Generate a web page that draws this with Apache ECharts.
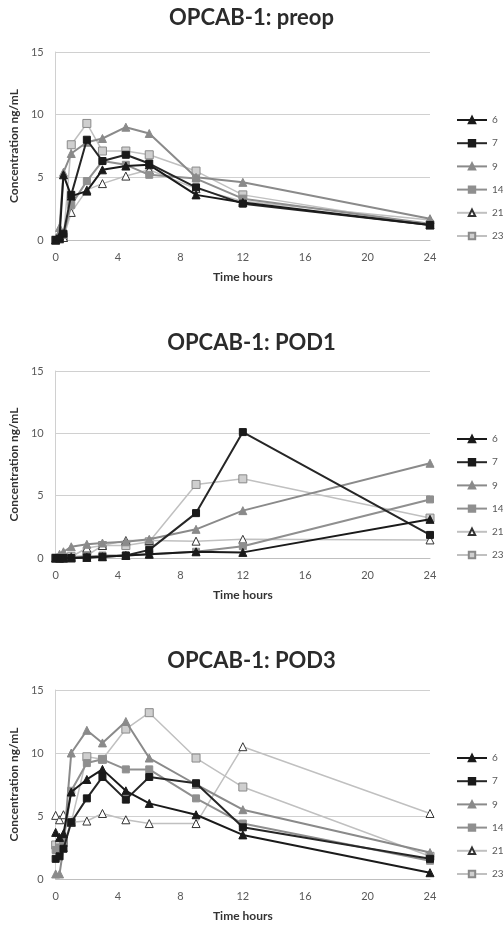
<!DOCTYPE html>
<html>
<head>
<meta charset="utf-8">
<script src="https://cdn.jsdelivr.net/npm/echarts@6/dist/echarts.min.js"></script>
<style>
html,body{margin:0;padding:0;background:#fff;}
#chart{width:503px;height:930px;}
</style>
</head>
<body>
<div id="chart"></div>
<script>
// ---- data ----
const times = [0, 0.25, 0.5, 1, 2, 3, 4.5, 6, 9, 12, 24];
const seriesNames = ['6', '7', '9', '14', '21', '23'];
const panelTitles = ['OPCAB-1: preop', 'OPCAB-1: POD1', 'OPCAB-1: POD3'];
const yTicks = [0, 5, 10, 15];
const xTicks = [0, 4, 8, 12, 16, 20, 24];

const preop6  = [0, 0.3, 5.2, 3.5, 3.9, 5.6, 5.9, 6.0, 3.6, 3.0, 1.2];
const preop7  = [0, 0.1, 0.5, 3.6, 8.0, 6.3, 6.8, 6.1, 4.2, 2.9, 1.2];
const preop9  = [0, 1.0, 5.4, 6.9, 7.8, 8.1, 9.0, 8.5, 5.0, 4.6, 1.7];
const preop14 = [0, 0.2, 0.4, 2.8, 4.7, 6.3, 6.0, 5.2, 4.9, 3.3, 1.3];
const preop21 = [0, 0.1, 0.2, 2.2, 4.0, 4.5, 5.1, 5.6, 4.1, 3.1, 1.6];
const preop23 = [0, 0.1, 0.2, 7.6, 9.3, 7.1, 7.1, 6.8, 5.5, 3.6, 1.2];

const pod1_6  = [0, 0, 0, 0, 0.05, 0.1, 0.2, 0.3, 0.5, 0.45, 3.1];
const pod1_7  = [0, 0, 0, 0, 0.05, 0.1, 0.2, 0.65, 3.6, 10.1, 1.85];
const pod1_9  = [0, 0.3, 0.5, 0.9, 1.1, 1.2, 1.3, 1.5, 2.3, 3.8, 7.6];
const pod1_14 = [0, 0, 0, 0, 0.1, 0.2, 0.2, 0.3, 0.5, 0.95, 4.7];
const pod1_21 = [0, 0, 0, 0.1, 0.8, 1.0, 1.4, 1.4, 1.35, 1.5, 1.45];
const pod1_23 = [0, 0, 0, 0.1, 0.2, 1.0, 1.0, 1.3, 5.9, 6.35, 3.2];

const pod3_6  = [3.7, 3.3, 3.6, 6.9, 7.9, 8.7, 7.0, 6.0, 5.1, 3.5, 0.5];
const pod3_7  = [1.6, 1.8, 2.4, 4.5, 6.4, 8.1, 6.3, 8.1, 7.6, 4.1, 1.6];
const pod3_9  = [0.4, 0.4, 2.5, 10.0, 11.8, 10.8, 12.5, 9.6, 7.5, 5.5, 2.1];
const pod3_14 = [2.3, 2.5, 3.0, 7.0, 9.2, 9.5, 8.7, 8.7, 6.4, 4.4, 1.45];
const pod3_21 = [5.05, 4.7, 5.1, 4.5, 4.6, 5.2, 4.7, 4.4, 4.4, 10.5, 5.2];
const pod3_23 = [2.7, 2.7, 2.9, 4.5, 9.7, 9.5, 11.9, 13.2, 9.6, 7.3, 1.8];

const panels = [
  [preop6, preop7, preop9, preop14, preop21, preop23],
  [pod1_6, pod1_7, pod1_9, pod1_14, pod1_21, pod1_23],
  [pod3_6, pod3_7, pod3_9, pod3_14, pod3_21, pod3_23]
];

// ---- styles ----
const FONT = 'Lato';
const styles = [
  {line: '#1a1a1a', w: 2,   symbol: 'triangle', size: 8, fill: '#1a1a1a', border: '#1a1a1a'},
  {line: '#262626', w: 2,   symbol: 'rect',     size: 7, fill: '#1a1a1a', border: '#1a1a1a'},
  {line: '#8a8a8a', w: 2,   symbol: 'triangle', size: 8, fill: '#8a8a8a', border: '#8a8a8a'},
  {line: '#8f8f8f', w: 2,   symbol: 'rect',     size: 7, fill: '#8f8f8f', border: '#8f8f8f'},
  {line: '#c0c0c0', w: 1.5, symbol: 'triangle', size: 8, fill: '#ffffff', border: '#333333'},
  {line: '#c0c0c0', w: 1.5, symbol: 'rect',     size: 8, fill: '#cfcfcf', border: '#8a8a8a'}
];

const gridTops = [52, 371, 690];
const gridHeights = [188, 187, 189];
const titleTops = [7, 332, 650];
const legendTops = [115, 434, 753];

const option = {
  animation: false,
  textStyle: {fontFamily: FONT},
  title: panelTitles.map((t, i) => ({
    text: t, left: 'center', top: titleTops[i], padding: 0,
    textStyle: {fontFamily: FONT, fontSize: 22, fontWeight: 'bold', color: '#2b2b2b'}
  })),
  legend: gridTops.map((g, i) => ({
    data: seriesNames, orient: 'vertical', left: 456, top: legendTops[i],
    itemWidth: 30, itemHeight: 8, itemGap: 13.2, padding: 0,
    textStyle: {fontFamily: FONT, fontSize: 10, color: '#595959'}
  })),
  grid: gridTops.map((t, i) => ({left: 54, top: t, width: 376, height: gridHeights[i], containLabel: false})),
  xAxis: gridTops.map((t, i) => ({
    type: 'value', gridIndex: i, min: 0, max: 24, interval: 4,
    name: 'Time hours', nameLocation: 'middle', nameGap: 31,
    nameTextStyle: {fontFamily: FONT, fontSize: 12, fontWeight: 'bold', color: '#333'},
    axisLine: {show: true, lineStyle: {color: '#bfbfbf', width: 1}},
    axisTick: {show: false},
    splitLine: {show: false},
    axisLabel: {fontFamily: FONT, fontSize: 11, color: '#595959', margin: 12}
  })),
  yAxis: gridTops.map((t, i) => ({
    type: 'value', gridIndex: i, min: 0, max: 15, interval: 5,
    name: 'Concentration ng/mL', nameLocation: 'middle', nameGap: 35, nameRotate: 90,
    nameTextStyle: {fontFamily: FONT, fontSize: 12, fontWeight: 'bold', color: '#333'},
    axisLine: {show: true, lineStyle: {color: '#d0d0d0', width: 1}},
    axisTick: {show: false},
    splitLine: {show: true, lineStyle: {color: '#d0d0d0', width: 1}},
    axisLabel: {fontFamily: FONT, fontSize: 11, color: '#595959', margin: 12}
  })),
  series: []
};

panels.forEach((vals, p) => {
  vals.forEach((arr, s) => {
    const st = styles[s];
    option.series.push({
      name: seriesNames[s], type: 'line', xAxisIndex: p, yAxisIndex: p,
      data: times.map((t, k) => [t, arr[k]]),
      symbol: st.symbol, symbolSize: st.size, showAllSymbol: true,
      lineStyle: {color: st.line, width: st.w},
      itemStyle: {color: st.fill, borderColor: st.border, borderWidth: 1},
      z: 10 - s
    });
  });
});

const chart = echarts.init(document.getElementById('chart'), null, {renderer: 'canvas'});
chart.setOption(option);
</script>
</body>
</html>
